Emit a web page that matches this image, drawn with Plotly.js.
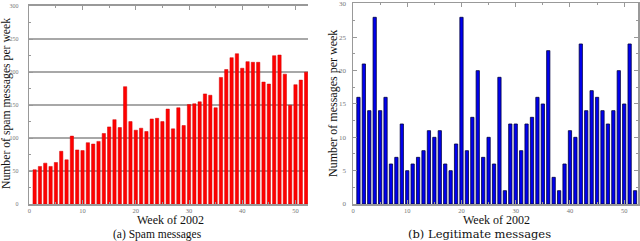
<!DOCTYPE html>
<html>
<head>
<meta charset="utf-8">
<script src="https://cdn.plot.ly/plotly-3.0.1.min.js"></script>
<style>html,body{margin:0;padding:0;background:#fff}#chart{width:640px;height:241px}</style>
</head>
<body>
<div id="chart"></div>
<script>
const weeks = [1,2,3,4,5,6,7,8,9,10,11,12,13,14,15,16,17,18,19,20,21,22,23,24,25,26,27,28,29,30,31,32,33,34,35,36,37,38,39,40,41,42,43,44,45,46,47,48,49,50,51,52];
const spamCounts = [52,57,62,57,63,80,67,103,82,81,93,91,95,107,117,128,116,178,125,112,115,110,129,130,125,144,114,146,119,151,152,155,167,165,146,192,204,222,228,206,216,215,215,185,182,225,226,197,150,181,188,200];
const legitCounts = [16,21,14,28,14,16,6,7,12,5,6,7,8,11,10,11,6,5,9,28,8,13,20,7,10,6,19,2,12,12,8,12,13,16,15,23,4,2,6,11,10,24,14,17,16,14,12,14,20,15,24,2];
const xTickVals = [0,10,20,30,40,50];
const spamTickVals = [0,50,100,150,200,250,300];
const legitTickVals = [0,5,10,15,20,25,30];
const xTitle = "Week of 2002";
const yTitleSpam = "Number of spam messages per week";
const yTitleLegit = "Number of messages per week";
const captionSpam = "(a) Spam messages";
const captionLegit = "(b) Legitimate messages";

const W = 640, H = 241;
const px = v => v / W, py = v => 1 - v / H;
const serif = "Liberation Serif, DejaVu Serif, serif";
const tickFont = s => ({family: serif, size: s, color: "#777"});
const axisCol = "#999";

const traces = [
  {type: "bar", x: weeks, y: spamCounts, xaxis: "x", yaxis: "y",
   marker: {color: "#ff0000", line: {color: "#d00000", width: 0.5}}, width: 0.62},
  {type: "bar", x: weeks, y: legitCounts, xaxis: "x2", yaxis: "y2",
   marker: {color: "#0000f0", line: {color: "#000040", width: 0.8}}, width: 0.6}
];

const layout = {
  width: W, height: H, margin: {l: 0, r: 0, t: 0, b: 0},
  paper_bgcolor: "#fff", plot_bgcolor: "#fff", showlegend: false,
  xaxis: {domain: [px(29.3), px(308)], range: [0, 52.35], anchor: "y",
    tickvals: xTickVals, ticks: "inside", ticklen: 4, tickcolor: axisCol,
    showline: true, linecolor: axisCol, linewidth: 1.5, mirror: "ticks", showgrid: false, zeroline: false,
    minor: {dtick: 5, tick0: 0, ticks: "inside", ticklen: 2, tickcolor: axisCol},
    tickfont: tickFont(6.5), fixedrange: true},
  yaxis: {domain: [py(204), py(5.6)], range: [0, 301], anchor: "x",
    tickvals: spamTickVals, ticks: "inside", ticklen: 4, tickcolor: axisCol,
    showline: true, linecolor: axisCol, linewidth: 1.5, showgrid: true, gridcolor: "#a8a8a8", gridwidth: 1.5, zeroline: false,
    minor: {dtick: 25, tick0: 0, ticks: "inside", ticklen: 2, tickcolor: axisCol, showgrid: false},
    tickfont: tickFont(6), ticklabelstandoff: 8, fixedrange: true},
  xaxis2: {domain: [px(353), px(638.3)], range: [0, 52.6], anchor: "y2",
    tickvals: xTickVals, ticks: "inside", ticklen: 4, tickcolor: axisCol,
    showline: true, linecolor: axisCol, linewidth: 1.5, mirror: "ticks", showgrid: false, zeroline: false,
    minor: {dtick: 5, tick0: 0, ticks: "inside", ticklen: 2, tickcolor: axisCol},
    tickfont: tickFont(6.5), fixedrange: true},
  yaxis2: {domain: [py(204), py(3.3)], range: [0, 30.1], anchor: "x2",
    tickvals: legitTickVals, ticks: "inside", ticklen: 4, tickcolor: axisCol,
    showline: true, linecolor: axisCol, linewidth: 1.5, mirror: "ticks", showgrid: false, zeroline: false,
    minor: {dtick: 2.5, tick0: 0, ticks: "inside", ticklen: 2, tickcolor: axisCol},
    tickfont: tickFont(7), ticklabelstandoff: 4, fixedrange: true},
  annotations: [
    {text: xTitle, xref: "paper", yref: "paper", x: px(170), y: py(219.8), showarrow: false,
     font: {family: serif, size: 12, color: "#111"}, xanchor: "center", yanchor: "middle"},
    {text: captionSpam, xref: "paper", yref: "paper", x: px(157), y: py(234), showarrow: false,
     font: {family: serif, size: 11.5, color: "#111"}, xanchor: "center", yanchor: "middle"},
    {text: yTitleSpam, xref: "paper", yref: "paper", x: px(6.5), y: py(103.5), showarrow: false, textangle: -90,
     font: {family: serif, size: 11.7, color: "#111"}, xanchor: "center", yanchor: "middle"},
    {text: xTitle, xref: "paper", yref: "paper", x: px(496), y: py(220), showarrow: false,
     font: {family: serif, size: 12, color: "#111"}, xanchor: "center", yanchor: "middle"},
    {text: captionLegit, xref: "paper", yref: "paper", x: px(479), y: py(234), showarrow: false,
     font: {family: "DejaVu Serif, serif", size: 11.5, color: "#111"}, xanchor: "center", yanchor: "middle"},
    {text: yTitleLegit, xref: "paper", yref: "paper", x: px(332.5), y: py(103.5), showarrow: false, textangle: -90,
     font: {family: serif, size: 12, color: "#111"}, xanchor: "center", yanchor: "middle"}
  ]
};

Plotly.newPlot("chart", traces, layout, {displayModeBar: false, staticPlot: true});
</script>
</body>
</html>
